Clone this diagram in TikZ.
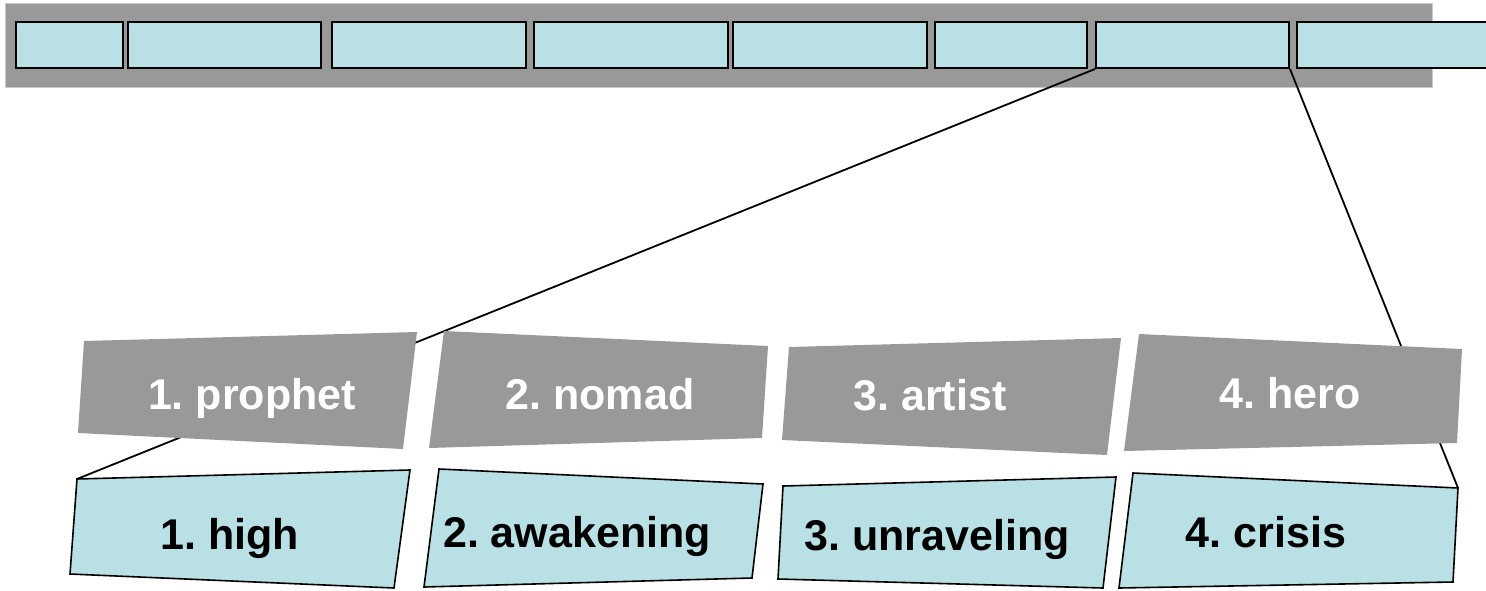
\documentclass[tikz,border=0pt]{standalone}
\usepackage{fontspec}
\setmainfont{Liberation Sans}
\definecolor{barg}{RGB}{153,153,153}
\definecolor{baredge}{RGB}{200,200,200}
\definecolor{paleblue}{RGB}{185,224,228}
\begin{document}
\frenchspacing
\begin{tikzpicture}[x=1pt,y=-1pt,
  barbox/.style={draw=black,line width=2pt,fill=paleblue,inner sep=0pt,minimum height=46pt},
  grayquad/.style={fill=barg},
  bluequad/.style={fill=paleblue,draw=black,line width=1.6pt,line join=miter},
  link/.style={draw=black,line width=1.8pt},
  graylabel/.style={text=white,font=\fontsize{43}{51}\selectfont\bfseries,anchor=base,inner sep=0pt},
  bluelabel/.style={text=black,font=\fontsize{43}{51}\selectfont\bfseries,anchor=base,inner sep=0pt}]
\useasboundingbox (0,0) rectangle (1486,590);
% top bar
\filldraw[fill=barg,draw=baredge,line width=1pt] (5,3) rectangle (1432,87);
\node[barbox,minimum width=107pt] (b1) at (69.5,45) {};
\node[barbox,minimum width=193pt] (b2) at (224.5,45) {};
\node[barbox,minimum width=194pt] (b3) at (429,45) {};
\node[barbox,minimum width=194pt] (b4) at (631,45) {};
\node[barbox,minimum width=194pt] (b5) at (830,45) {};
\node[barbox,minimum width=152pt] (b6) at (1011,45) {};
\node[barbox,minimum width=193pt] (b7) at (1192.5,45) {};
\node[barbox,minimum width=213pt] (b8) at (1403.5,45) {};
% corner coordinates of the quads
\coordinate (h1) at (77,479);   \coordinate (h2) at (410,470);  \coordinate (h3) at (394,588);  \coordinate (h4) at (70,574);
\coordinate (a1) at (439,469);  \coordinate (a2) at (763,484);  \coordinate (a3) at (752,578);  \coordinate (a4) at (424,587);
\coordinate (u1) at (783,486);  \coordinate (u2) at (1116,477); \coordinate (u3) at (1103,588); \coordinate (u4) at (778,579);
\coordinate (c1) at (1133,473); \coordinate (c2) at (1458,488); \coordinate (c3) at (1453,582); \coordinate (c4) at (1119,588);
% connectors
\draw[link] (h1) -- (b7.south west);
\draw[link] (b7.south east) -- (c2);
% gray quads
\fill[grayquad] (84,341) -- (417,332) -- (403,449) -- (78,433) -- cycle;
\fill[grayquad] (444,331) -- (768,346) -- (762,438) -- (429,448) -- cycle;
\fill[grayquad] (789,347) -- (1121,338) -- (1107,455) -- (782,440) -- cycle;
\fill[grayquad] (1139,334) -- (1462,349) -- (1457,443) -- (1124,451) -- cycle;
% blue quads
\filldraw[bluequad] (h1) -- (h2) -- (h3) -- (h4) -- cycle;
\filldraw[bluequad] (a1) -- (a2) -- (a3) -- (a4) -- cycle;
\filldraw[bluequad] (u1) -- (u2) -- (u3) -- (u4) -- cycle;
\filldraw[bluequad] (c1) -- (c2) -- (c3) -- (c4) -- cycle;
% labels
\node[graylabel] (prophet) at (252,409) {1. prophet};
\node[graylabel] (nomad) at (600,409) {2. nomad};
\node[graylabel] (artist) at (930,410) {3. artist};
\node[graylabel] (hero) at (1290,408) {4. hero};
\node[bluelabel] (high) at (230,549) {1. high};
\node[bluelabel] (awakening) at (577,547) {2. awakening};
\node[bluelabel] (unraveling) at (937,550) {3. unraveling};
\node[bluelabel] (crisis) at (1266,547) {4. crisis};
\end{tikzpicture}
\end{document}
